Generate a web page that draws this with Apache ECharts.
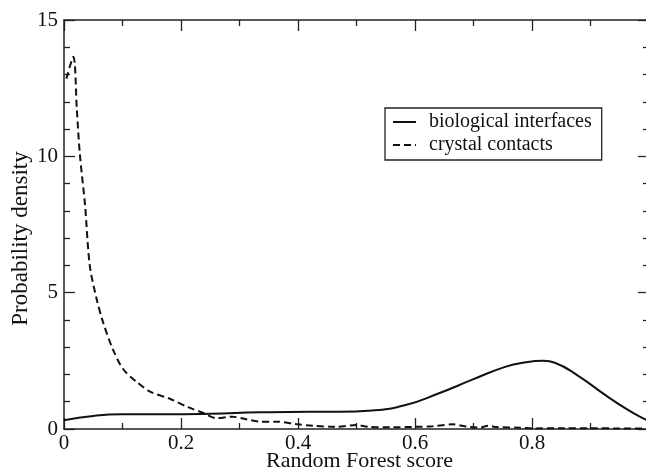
<!DOCTYPE html>
<html>
<head>
<meta charset="utf-8">
<script src="https://cdn.jsdelivr.net/npm/echarts@6/dist/echarts.min.js"></script>
<style>
html,body{margin:0;padding:0;background:#fff;}
#chart{width:646px;height:471px;}
</style>
</head>
<body>
<div id="chart"></div>
<script>
// Data
var seriesNames = ['biological interfaces', 'crystal contacts'];
var biologicalX = [0.0, 0.05, 0.1, 0.165, 0.25, 0.335, 0.42, 0.47, 0.527, 0.584, 0.641, 0.697, 0.754, 0.79, 0.82, 0.839, 0.879, 0.925, 0.964, 0.99, 1.0];
var biologicalY = [0.32, 0.48, 0.54, 0.54, 0.56, 0.61, 0.63, 0.63, 0.68, 0.88, 1.31, 1.8, 2.28, 2.45, 2.5, 2.43, 1.95, 1.25, 0.7, 0.39, 0.3];
var crystalX = [0.004, 0.016, 0.022, 0.027, 0.036, 0.044, 0.056, 0.067, 0.084, 0.101, 0.124, 0.149, 0.18, 0.212, 0.237, 0.26, 0.288, 0.311, 0.334, 0.362, 0.396, 0.425, 0.465, 0.5, 0.52, 0.56, 0.6, 0.63, 0.665, 0.69, 0.71, 0.725, 0.74, 0.78, 0.8, 0.85, 0.9, 0.95, 1.0];
var crystalY = [12.85, 13.65, 11.7, 10.1, 8.2, 6.0, 4.75, 3.9, 2.9, 2.2, 1.73, 1.35, 1.12, 0.8, 0.6, 0.4, 0.45, 0.36, 0.27, 0.27, 0.18, 0.12, 0.08, 0.15, 0.08, 0.06, 0.08, 0.1, 0.17, 0.08, 0.05, 0.12, 0.07, 0.05, 0.02, 0.03, 0.03, 0.02, 0.02];
var xTickValues = [0, 0.2, 0.4, 0.6, 0.8];
var yTickValues = [0, 5, 10, 15];
var xTitle = 'Random Forest score';
var yTitle = 'Probability density';

function zip(xs, ys) { return xs.map(function (x, i) { return [x, ys[i]]; }); }

var FONT = '"Liberation Serif", "Times New Roman", serif';
var INK = '#111';
var AXIS = '#222';

function baseX(extra) {
  var o = {
    type: 'value', min: 0, max: 1, interval: 0.2,
    axisLine: { show: true, onZero: false, lineStyle: { color: AXIS, width: 1.5 } },
    axisTick: { show: true, inside: true, length: 11, lineStyle: { color: AXIS, width: 1.3 } },
    minorTick: { show: true, splitNumber: 2, length: 6, lineStyle: { color: AXIS, width: 1.3 } },
    splitLine: { show: false },
    minorSplitLine: { show: false }
  };
  for (var k in extra) o[k] = extra[k];
  return o;
}
function baseY(extra) {
  var o = {
    type: 'value', min: 0, max: 15, interval: 5,
    axisLine: { show: true, onZero: false, lineStyle: { color: AXIS, width: 1.5 } },
    axisTick: { show: true, inside: true, length: 11, lineStyle: { color: AXIS, width: 1.3 } },
    minorTick: { show: true, splitNumber: 5, length: 6, lineStyle: { color: AXIS, width: 1.3 } },
    splitLine: { show: false },
    minorSplitLine: { show: false }
  };
  for (var k in extra) o[k] = extra[k];
  return o;
}

var chart = echarts.init(document.getElementById('chart'), null, { renderer: 'canvas' });
chart.setOption({
  animation: false,
  backgroundColor: '#fff',
  grid: { left: 64, top: 20, width: 585, height: 409, containLabel: false, outerBoundsMode: 'none' },
  legend: {
    data: seriesNames,
    orient: 'vertical',
    left: 385, top: 108,
    backgroundColor: '#fff',
    borderColor: AXIS, borderWidth: 1.3,
    padding: [4, 10, 5, 7],
    itemWidth: 23, itemHeight: 14, itemGap: 3,
    itemStyle: { opacity: 0 },
    textStyle: { fontFamily: FONT, fontSize: 20, color: INK, lineHeight: 20, padding: [0, 0, 0, 8] }
  },
  xAxis: [
    baseX({
      position: 'bottom',
      name: xTitle, nameLocation: 'middle', nameGap: 21, nameMoveOverlap: false,
      nameTextStyle: { fontFamily: FONT, fontSize: 22, color: INK, verticalAlign: 'top', padding: [0, 0, 0, 6] },
      axisLabel: {
        show: true, margin: 4, fontFamily: FONT, fontSize: 21, color: INK,
        formatter: function (v) { return xTickValues.indexOf(Math.round(v * 10) / 10) >= 0 ? String(Math.round(v * 10) / 10) : ''; }
      }
    }),
    baseX({ position: 'top', axisLabel: { show: false } })
  ],
  yAxis: [
    baseY({
      position: 'left',
      name: yTitle, nameLocation: 'middle', nameGap: 32, nameRotate: 90, nameMoveOverlap: false,
      nameTextStyle: { fontFamily: FONT, fontSize: 23, color: INK, padding: [0, 28, 0, 0] },
      axisLabel: {
        show: true, margin: 6, fontFamily: FONT, fontSize: 21, color: INK,
        formatter: function (v) { return yTickValues.indexOf(v) >= 0 ? String(v) : ''; }
      }
    }),
    baseY({ position: 'right', axisLabel: { show: false } })
  ],
  series: [
    {
      name: seriesNames[0], type: 'line', xAxisIndex: 0, yAxisIndex: 0,
      data: zip(biologicalX, biologicalY),
      showSymbol: false, symbol: 'none', smooth: 0.5,
      lineStyle: { color: INK, width: 2, type: 'solid' },
      itemStyle: { color: INK }
    },
    {
      name: seriesNames[1], type: 'line', xAxisIndex: 0, yAxisIndex: 0,
      data: zip(crystalX, crystalY),
      showSymbol: false, symbol: 'none', smooth: 0.3,
      lineStyle: { color: INK, width: 2, type: [7, 4] },
      itemStyle: { color: INK }
    }
  ]
});
</script>
</body>
</html>
